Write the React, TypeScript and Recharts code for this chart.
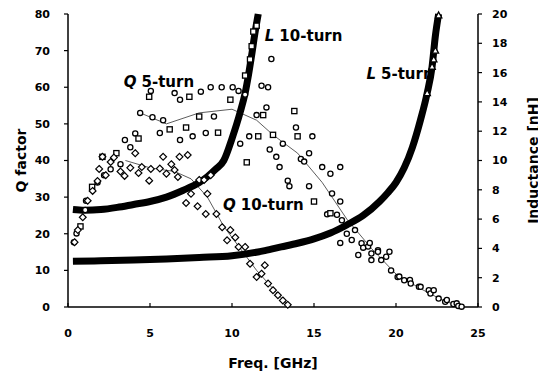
import React from 'react';
import {
  ComposedChart, Line, Scatter, XAxis, YAxis, Label, ReferenceDot,
} from 'recharts';

const freqTicks = [0, 5, 10, 15, 20, 25];
const qTicks = [0, 10, 20, 30, 40, 50, 60, 70, 80];
const indTicks = [0, 2, 4, 6, 8, 10, 12, 14, 16, 18, 20];

// inductance, 5-turn (nH)
const l5Freq = [0.3, 2, 4, 6, 8, 10, 12, 13, 14, 15, 16, 17, 18, 19, 19.5, 20, 20.5, 21, 21.5, 21.9, 22.2, 22.4, 22.6];
const l5Ind = [3.12, 3.15, 3.2, 3.28, 3.38, 3.5, 3.85, 4.1, 4.35, 4.65, 5.05, 5.6, 6.25, 7.2, 7.8, 8.5, 9.5, 10.9, 12.8, 14.6, 16.4, 18.5, 20];
const l5MarkFreq = [21.9, 22.2, 22.3, 22.4, 22.6];
const l5MarkInd = [14.6, 16.4, 16.9, 17.5, 19.9];

// inductance, 10-turn (nH)
const l10Freq = [0.3, 1, 2, 3, 4, 5, 6, 7, 8, 8.5, 9, 9.5, 10, 10.5, 10.8, 11, 11.2, 11.4, 11.6];
const l10Ind = [6.65, 6.6, 6.65, 6.8, 7.0, 7.2, 7.5, 7.95, 8.5, 8.9, 9.4, 10.0, 11.5, 13.3, 14.6, 15.8, 17.2, 18.7, 20];
const l10MarkFreq = [10.8, 11.1, 11.2, 11.3, 11.5];
const l10MarkInd = [15.8, 16.9, 17.8, 18.8, 19.2];

// Q, 5-turn (circles)
const q5cFreq = [0.36, 0.52, 1.05, 1.1, 1.8, 2.2, 2.6, 3.2, 3.47, 3.8, 4.1, 4.4, 5.05, 5.15, 5.6, 5.8, 6.5, 6.83, 6.83, 7.6, 8.1, 8.4, 8.7, 8.9, 9.37, 10.04, 10.4, 10.5, 10.8, 11.05, 11.5, 11.8, 12.2, 12.4, 12.1, 12.3, 12.7, 12.9, 13.1, 13.4, 13.5, 13.9, 14.2, 14.4, 14.7, 14.7, 14.9, 15.5, 15.8, 16.0, 16.1, 16.4, 16.6, 16.6, 16.7, 17.0, 16.6, 17.3, 17.5, 17.7, 17.9, 18.0, 18.3, 18.4, 18.5, 18.5, 18.9, 18.9, 19.1, 19.4, 19.6, 19.7, 20.1, 20.2, 20.5, 20.85, 20.9, 21.4, 21.5, 22.0, 22.1, 22.3, 22.6, 23.0, 23.1, 23.5, 23.7, 23.8, 24.0];
const q5cQ = [17.7, 20.1, 26.5, 29, 34, 36, 37.6, 39, 45.6, 43.6, 47.4, 53, 59, 51.8, 47.5, 51, 58.4, 56.6, 45.6, 46.6, 58.8, 47.5, 60, 52, 60, 60, 59, 44.6, 58, 46.6, 52.4, 60.4, 60, 67.7, 54.5, 43, 41, 38.2, 44.6, 34.5, 33, 49, 40.4, 39.7, 42, 33, 46.6, 38.2, 25.3, 36.4, 31, 25.2, 38.2, 28.8, 23.7, 20, 17.5, 18.3, 21, 14.2, 17.4, 16.2, 16.5, 17.5, 14.6, 12.8, 15.5, 15.1, 12.8, 13.7, 15.1, 10, 8.2, 8.3, 7.3, 7.4, 6.4, 5.5, 5.5, 4.6, 3.7, 4.6, 2.3, 1.4, 1.9, 0.8, 1.0, 0.3, 0.1];

// Q, 5-turn (squares)
const q5sFreq = [0.76, 1.47, 2.1, 2.95, 4.3, 4.95, 6.2, 7.2, 7.4, 8.0, 9.15, 9.9, 10.9, 11.6, 11.9, 12.5, 13.8, 14.0, 15.0, 16.0];
const q5sQ = [22, 32.8, 41, 42, 46, 57.4, 48.5, 49, 57.4, 52, 47.6, 56.6, 39.5, 46.6, 52.4, 47, 53.5, 46.6, 28.8, 25.6];

// Q, 10-turn (diamonds)
const q10Freq = [0.4, 0.6, 0.9, 1.2, 1.5, 1.8, 1.9, 2.1, 2.3, 2.6, 2.8, 3.2, 3.45, 3.8, 4.1, 4.3, 4.5, 4.95, 5.05, 5.6, 5.8, 6.0, 6.3, 6.5, 6.8, 6.7, 7.3, 7.2, 7.5, 7.9, 8.0, 8.3, 8.4, 8.5, 8.7, 9.05, 9.4, 9.7, 9.9, 10.2, 10.4, 10.8, 11.1, 11.5, 11.8, 12.0, 12.2, 12.5, 12.8, 13.1, 13.4];
const q10Q = [17.7, 21, 24.5, 29, 31.7, 34.4, 37.7, 41, 36, 39.6, 40.8, 37, 35.8, 38, 42, 36.6, 38.2, 34.5, 37.7, 37.8, 41, 36.4, 39, 37.4, 41, 35.5, 41.5, 28.4, 30.9, 27.5, 34.7, 34.7, 25.4, 30.9, 36, 25.4, 21.8, 18.2, 21, 19, 16.4, 16.4, 11.8, 8.2, 9.1, 11.4, 6.4, 4.6, 3.2, 1.8, 0.6];

// thin trend lines through the Q data
const q5FitFreq = [4.4, 6, 8, 10, 11.5, 12.5, 14, 15.5, 17, 18.5, 20, 21.5, 23, 24.2];
const q5FitQ = [53, 50, 53, 54, 51, 47, 42, 34, 24, 16, 9, 5, 1.5, 0];
const q10FitFreq = [3.5, 5, 6.5, 7.5, 8.5, 9.5, 10.5, 11.5, 12.5, 13.5];
const q10FitQ = [40, 38, 37, 35, 30, 22, 16, 10, 5, 0];

const pts = (fs: number[], vs: number[]) => fs.map((f, i) => ({ f, v: vs[i] }));

const tickFont = {
  fontFamily: 'DejaVu Sans', fontWeight: 'bold', fontSize: 11, fill: '#000',
};
const titleStyle = {
  fontFamily: 'DejaVu Sans', fontWeight: 'bold', fontSize: 14, fill: '#000', textAnchor: 'middle',
};

const Circle = (p: any) => (
  <circle cx={p.cx} cy={p.cy} r={2.6} fill="#fff" stroke="#000" strokeWidth={1.3} />
);
const Square = (p: any) => (
  <rect x={p.cx - 2.6} y={p.cy - 2.6} width={5.2} height={5.2} fill="#fff" stroke="#000" strokeWidth={1.3} />
);
const Diamond = (p: any) => (
  <polygon
    points={`${p.cx},${p.cy - 3.4} ${p.cx + 3.4},${p.cy} ${p.cx},${p.cy + 3.4} ${p.cx - 3.4},${p.cy}`}
    fill="#fff" stroke="#000" strokeWidth={1.2}
  />
);
const Triangle = (p: any) => (
  <polygon
    points={`${p.cx},${p.cy - 3.5} ${p.cx + 3.2},${p.cy + 2.5} ${p.cx - 3.2},${p.cy + 2.5}`}
    fill="#fff" stroke="#000" strokeWidth={1.3}
  />
);

const annotate = (sym: string, txt: string) => (props: any) => {
  const { x, y } = props.viewBox;
  return (
    <text x={x} y={y} fontFamily="DejaVu Sans" fontWeight="bold" fontSize={15} fill="#000">
      <tspan fontStyle="italic">{sym}</tspan>
      <tspan dx={5}>{txt}</tspan>
    </text>
  );
};

function App() {
  return (
    <ComposedChart
      width={538}
      height={364}
      margin={{ top: 6, right: 8, bottom: 1, left: 0 }}
    >
      <XAxis
        dataKey="f"
        type="number"
        domain={[0, 25]}
        ticks={freqTicks}
        height={64}
        tick={tickFont}
        tickSize={-4}
        tickMargin={26}
        axisLine={{ stroke: '#000', strokeWidth: 1.5 }}
        tickLine={{ stroke: '#000', strokeWidth: 1.2 }}
      >
        <Label value="Freq. [GHz]" position="insideBottom" offset={3} style={titleStyle} />
      </XAxis>
      <YAxis
        yAxisId="q"
        type="number"
        domain={[0, 80]}
        ticks={qTicks}
        width={60}
        tick={tickFont}
        tickSize={4}
        tickMargin={14}
        axisLine={{ stroke: '#000', strokeWidth: 1.5 }}
        tickLine={{ stroke: '#000', strokeWidth: 1.2 }}
      >
        <Label value="Q factor" angle={-90} position="insideLeft" offset={13} style={titleStyle} />
      </YAxis>
      <YAxis
        yAxisId="l"
        orientation="right"
        type="number"
        domain={[0, 20]}
        ticks={indTicks}
        width={60}
        tick={tickFont}
        tickSize={4}
        tickMargin={10}
        axisLine={{ stroke: '#000', strokeWidth: 1.5 }}
        tickLine={{ stroke: '#000', strokeWidth: 1.2 }}
      >
        <Label value="Inductance [nH]" angle={-90} position="insideRight" offset={5} style={titleStyle} />
      </YAxis>

      <Line data={pts(q5FitFreq, q5FitQ)} dataKey="v" yAxisId="q" stroke="#333" strokeWidth={0.8} dot={false} isAnimationActive={false} />
      <Line data={pts(q10FitFreq, q10FitQ)} dataKey="v" yAxisId="q" stroke="#333" strokeWidth={0.8} dot={false} isAnimationActive={false} />

      <Scatter data={pts(q5cFreq, q5cQ)} dataKey="v" yAxisId="q" shape={Circle} isAnimationActive={false} />
      <Scatter data={pts(q5sFreq, q5sQ)} dataKey="v" yAxisId="q" shape={Square} isAnimationActive={false} />
      <Scatter data={pts(q10Freq, q10Q)} dataKey="v" yAxisId="q" shape={Diamond} isAnimationActive={false} />

      <Line data={pts(l5Freq, l5Ind)} dataKey="v" yAxisId="l" type="monotone" stroke="#000" strokeWidth={7} dot={false} isAnimationActive={false} />
      <Line data={pts(l10Freq, l10Ind)} dataKey="v" yAxisId="l" type="monotone" stroke="#000" strokeWidth={7} dot={false} isAnimationActive={false} />
      <Scatter data={pts(l5MarkFreq, l5MarkInd)} dataKey="v" yAxisId="l" shape={Triangle} isAnimationActive={false} />
      <Scatter data={pts(l10MarkFreq, l10MarkInd)} dataKey="v" yAxisId="l" shape={Square} isAnimationActive={false} />

      <ReferenceDot x={12} y={72.6} yAxisId="q" r={0} stroke="none" label={annotate('L', '10-turn')} />
      <ReferenceDot x={3.4} y={60} yAxisId="q" r={0} stroke="none" label={annotate('Q', '5-turn')} />
      <ReferenceDot x={18.2} y={62.3} yAxisId="q" r={0} stroke="none" label={annotate('L', '5-turn')} />
      <ReferenceDot x={9.45} y={26.5} yAxisId="q" r={0} stroke="none" label={annotate('Q', '10-turn')} />
    </ComposedChart>
  );
}

export default App;
